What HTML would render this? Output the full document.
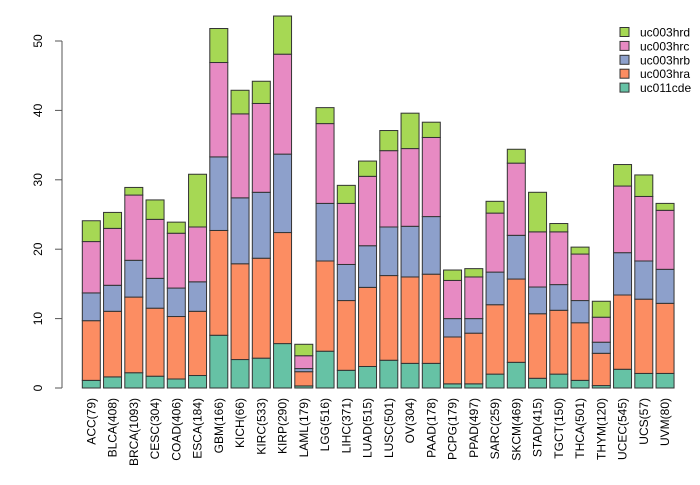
<!DOCTYPE html>
<html><head><meta charset="utf-8"><style>
html,body{margin:0;padding:0;background:#fff}
svg text{font-family:"Liberation Sans",sans-serif;fill:#000}
</style></head><body>
<svg id="chart" width="700" height="480" viewBox="0 0 700 480" xmlns="http://www.w3.org/2000/svg">
<g id="yaxis"></g>
<g id="bars"></g>
<g id="xlabels"></g>
<g id="legend"></g>
</svg>
<script>
const categories = ["ACC(79)","BLCA(408)","BRCA(1093)","CESC(304)","COAD(406)","ESCA(184)","GBM(166)","KICH(66)","KIRC(533)","KIRP(290)","LAML(179)","LGG(516)","LIHC(371)","LUAD(515)","LUSC(501)","OV(304)","PAAD(178)","PCPG(179)","PPAD(497)","SARC(259)","SKCM(469)","STAD(415)","TGCT(150)","THCA(501)","THYM(120)","UCEC(545)","UCS(57)","UVM(80)"];
const seriesNames = ["uc011cde","uc003hra","uc003hrb","uc003hrc","uc003hrd"];
const uc011cde = [1.1,1.6,2.2,1.7,1.3,1.8,7.6,4.1,4.3,6.4,0.3,5.3,2.55,3.1,4.0,3.55,3.55,0.6,0.6,2.0,3.7,1.4,2.0,1.1,0.35,2.7,2.1,2.1];
const uc003hra = [8.6,9.45,10.9,9.8,9.0,9.25,15.1,13.8,14.4,16.0,2.05,13.0,10.05,11.4,12.2,12.45,12.85,6.75,7.3,10.0,12.0,9.3,9.2,8.3,4.65,10.7,10.7,10.1];
const uc003hrb = [4.0,3.75,5.3,4.3,4.1,4.25,10.6,9.5,9.5,11.3,0.45,8.3,5.2,6.0,7.0,7.3,8.3,2.65,2.1,4.7,6.3,3.85,3.7,3.2,1.6,6.1,5.5,4.9];
const uc003hrc = [7.4,8.2,9.4,8.5,7.9,7.9,13.6,12.1,12.8,14.4,1.85,11.5,8.8,10.0,11.0,11.2,11.4,5.5,6.0,8.5,10.4,7.95,7.6,6.7,3.6,9.6,9.3,8.5];
const uc003hrd = [3.0,2.3,1.1,2.8,1.6,7.6,4.9,3.4,3.2,5.5,1.65,2.3,2.6,2.2,2.9,5.1,2.2,1.5,1.2,1.7,2.0,5.7,1.2,1.0,2.3,3.1,3.1,1.0];
const yTicks = [0,10,20,30,40,50];

const series = [uc011cde,uc003hra,uc003hrb,uc003hrc,uc003hrd];
const colors = ["#66c2a5","#fc8d62","#8da0cb","#e78ac3","#a6d854"];
const NS = "http://www.w3.org/2000/svg";
const y0 = 388, yTop = 41, vmax = 50;
const yScale = v => y0 - v * (y0 - yTop) / vmax;
const x0 = 82.3, step = 21.25, bw = 18;
const xScale = i => x0 + i * step;
function mk(tag, attrs){const e=document.createElementNS(NS,tag);for(const k in attrs)e.setAttribute(k,attrs[k]);return e;}

const ya = document.getElementById('yaxis');
const axl = mk('line',{x1:62,x2:62,y1:yScale(0),y2:yScale(50),stroke:'#555','stroke-width':1});


ya.appendChild(axl);
yTicks.forEach(t=>{
  const y=yScale(t);
  const tl=mk('line',{x1:55,x2:62,y1:y,y2:y,stroke:'#555','stroke-width':1});
  
  
  ya.appendChild(tl);
  const tx=mk('text',{x:0,y:0,'font-size':12,'text-anchor':'middle',transform:`translate(42,${y}) rotate(-90)`});
  
  
  tx.textContent=t;ya.appendChild(tx);
});

const bars=document.getElementById('bars');
const xl=document.getElementById('xlabels');
categories.forEach((c,i)=>{
  let cum=0;const x=xScale(i);
  series.forEach((s,k)=>{
    const v=s[i];
    const r=mk('rect',{x:x,y:yScale(cum+v),width:bw,height:yScale(cum)-yScale(cum+v),fill:colors[k],stroke:'#333','stroke-width':1});
    
    
    bars.appendChild(r);cum+=v;
  });
  const t=mk('text',{x:0,y:0,'font-size':12,'text-anchor':'end',transform:`translate(${x+bw/2+4},398) rotate(-90)`});
  
  
  t.textContent=c;xl.appendChild(t);
});

const lg=document.getElementById('legend');
for(let j=4;j>=0;j--){
  const y=32+(4-j)*13.9;
  const r=mk('rect',{x:620,y:y-4.5,width:9,height:9,fill:colors[j],stroke:'#333','stroke-width':1});
  
  
  lg.appendChild(r);
  const t=mk('text',{x:640,y:y+4.5,'font-size':12});
  
  
  t.textContent=seriesNames[j];lg.appendChild(t);
}
</script>
</body></html>
